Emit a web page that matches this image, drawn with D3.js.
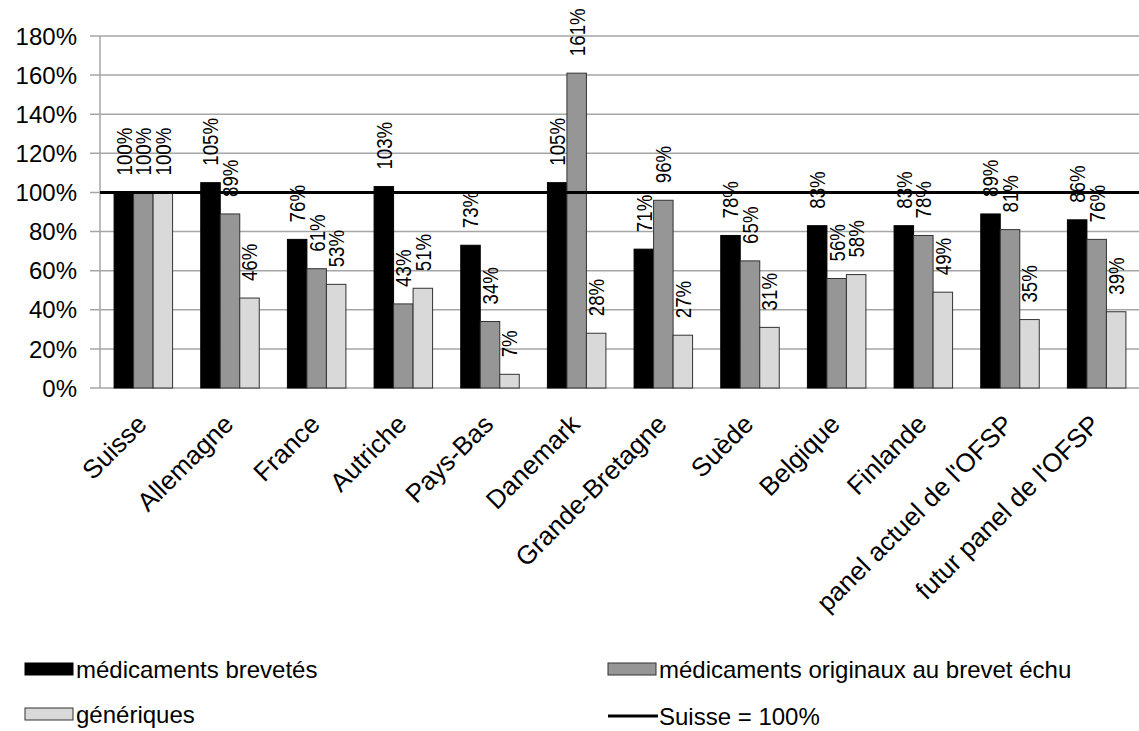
<!DOCTYPE html>
<html>
<head>
<meta charset="utf-8">
<script src="https://cdn.jsdelivr.net/npm/d3@7"></script>
<style>
  body { margin: 0; background: #fff; }
  text { font-family: "Liberation Sans", Arial, sans-serif; fill: #000; }
</style>
</head>
<body>
<div id="chart"></div>
<script>
// données
var categories = ["Suisse", "Allemagne", "France", "Autriche", "Pays-Bas", "Danemark",
    "Grande-Bretagne", "Suède", "Belgique", "Finlande", "panel actuel de l'OFSP", "futur panel de l'OFSP"];
var seriesNames = ["médicaments brevetés", "médicaments originaux au brevet échu", "génériques"];
var brevetes  = [1.00, 1.05, 0.76, 1.03, 0.73, 1.05, 0.71, 0.78, 0.83, 0.83, 0.89, 0.86];
var originaux = [1.00, 0.89, 0.61, 0.43, 0.34, 1.61, 0.96, 0.65, 0.56, 0.78, 0.81, 0.76];
var generiques = [1.00, 0.46, 0.53, 0.51, 0.07, 0.28, 0.27, 0.31, 0.58, 0.49, 0.35, 0.39];
var referenceName = "Suisse = 100%";
var referenceValue = 1.0;
var yTicks = [0, 0.2, 0.4, 0.6, 0.8, 1.0, 1.2, 1.4, 1.6, 1.8];

var W = 1139, H = 731;
var colors = ["#000000", "#969696", "#d9d9d9"];
var strokes = ["#000000", "#333333", "#333333"];
var seriesValues = [brevetes, originaux, generiques];

var svg = d3.select("#chart").append("svg")
    .attr("width", W)
    .attr("height", H);

var x0 = d3.scaleBand().domain(categories).range([100, 1140]).paddingInner(0.325).paddingOuter(0.1625);
var x1 = d3.scaleBand().domain(d3.range(3)).range([0, x0.bandwidth()]);
var y = d3.scaleLinear().domain([0, 1.8]).range([388, 36]);

// grille horizontale
svg.append("g").selectAll("line").data(yTicks).enter().append("line")
    .attr("x1", 90).attr("x2", W)
    .attr("y1", function (d) { return y(d); })
    .attr("y2", function (d) { return y(d); })
    .attr("stroke", "#a6a6a6").attr("stroke-width", 1.5);

// axe vertical
svg.append("line")
    .attr("x1", 100).attr("x2", 100)
    .attr("y1", y(1.8)).attr("y2", y(0))
    .attr("stroke", "#a6a6a6").attr("stroke-width", 1.5);

// étiquettes de l'axe y
svg.append("g").selectAll("text").data(yTicks).enter().append("text")
    .attr("x", 77)
    .attr("y", function (d) { return y(d); })
    .attr("dy", "0.36em")
    .attr("text-anchor", "end")
    .style("font-size", "24px")
    .text(function (d) { return Math.round(d * 100) + "%"; });

// barres
var groups = svg.append("g").selectAll("g").data(categories).enter().append("g")
    .attr("transform", function (d) { return "translate(" + x0(d) + ",0)"; });

groups.selectAll("rect").data(function (d, i) {
        return seriesValues.map(function (s, k) { return {k: k, v: s[i]}; });
    }).enter().append("rect")
    .attr("x", function (d) { return x1(d.k); })
    .attr("y", function (d) { return y(d.v); })
    .attr("width", x1.bandwidth())
    .attr("height", function (d) { return y(0) - y(d.v); })
    .attr("fill", function (d) { return colors[d.k]; })
    .attr("stroke", function (d) { return strokes[d.k]; })
    .attr("stroke-width", 1);

// ligne de référence Suisse = 100%
svg.append("line")
    .attr("x1", 100).attr("x2", W)
    .attr("y1", y(referenceValue)).attr("y2", y(referenceValue))
    .attr("stroke", "#000").attr("stroke-width", 3);

// étiquettes de données (verticales)
groups.selectAll("text.lbl").data(function (d, i) {
        return seriesValues.map(function (s, k) { return {k: k, v: s[i]}; });
    }).enter().append("text")
    .attr("class", "lbl")
    .attr("transform", function (d) {
        var cx = x1(d.k) + x1.bandwidth() / 2,
            cy = y(d.v) - 17;
        return "translate(" + cx + "," + cy + ") rotate(-90) scale(0.85,1)";
    })
    .attr("dy", "0.36em")
    .style("font-size", "22px")
    .text(function (d) { return Math.round(d.v * 100) + "%"; });

// catégories (inclinées)
svg.append("g").selectAll("text").data(categories).enter().append("text")
    .attr("transform", function (d) {
        return "translate(" + (x0(d) + x0.bandwidth() / 2 - 8) + ",413) rotate(-45)";
    })
    .attr("text-anchor", "end")
    .attr("dy", "0.7em")
    .style("font-size", "26px")
    .text(function (d) { return d; });

// légende
var legend = [
    {type: "rect", k: 0, x: 25, y: 669, label: seriesNames[0]},
    {type: "rect", k: 1, x: 608, y: 669, label: seriesNames[1]},
    {type: "rect", k: 2, x: 25, y: 714, label: seriesNames[2]},
    {type: "line", x: 608, y: 716, label: referenceName}
];
var lg = svg.append("g").selectAll("g").data(legend).enter().append("g");
lg.filter(function (d) { return d.type === "rect"; }).append("rect")
    .attr("x", function (d) { return d.x; })
    .attr("y", function (d) { return d.y - 6; })
    .attr("width", 48).attr("height", 12)
    .attr("fill", function (d) { return colors[d.k]; })
    .attr("stroke", function (d) { return strokes[d.k]; });
lg.filter(function (d) { return d.type === "line"; }).append("line")
    .attr("x1", function (d) { return d.x; })
    .attr("x2", function (d) { return d.x + 50; })
    .attr("y1", function (d) { return d.y; })
    .attr("y2", function (d) { return d.y; })
    .attr("stroke", "#000").attr("stroke-width", 3);
lg.append("text")
    .attr("x", function (d) { return d.x + 51; })
    .attr("y", function (d) { return d.y; })
    .attr("dy", "0.36em")
    .style("font-size", "24px")
    .text(function (d) { return d.label; });
</script>
</body>
</html>
